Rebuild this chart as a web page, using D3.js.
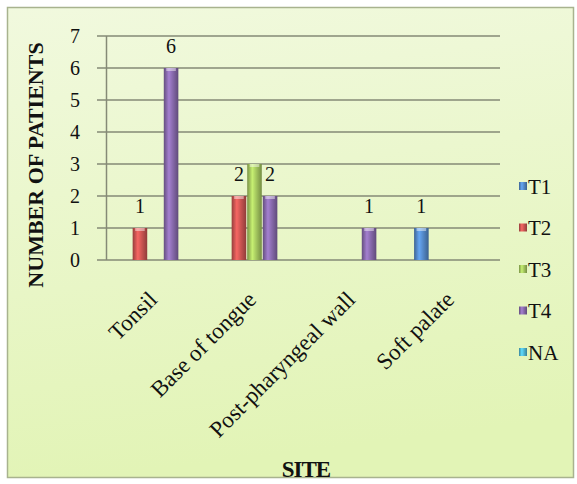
<!DOCTYPE html>
<html>
<head>
<meta charset="utf-8">
<script src="https://cdn.jsdelivr.net/npm/d3@7"></script>
<style>
html,body{margin:0;padding:0;background:#fff;}
svg{display:block;}
</style>
</head>
<body>
<svg id="chart" width="577" height="484"></svg>
<script>
const categories = ["Tonsil", "Base of tongue", "Post-pharyngeal wall", "Soft palate"];
const seriesNames = ["T1", "T2", "T3", "T4", "NA"];
const T1 = [0, 0, 0, 1];
const T2 = [1, 2, 0, 0];
const T3 = [0, 3, 0, 0];
const T4 = [6, 2, 1, 0];
const NA = [0, 0, 0, 0];
const seriesValues = [T1, T2, T3, T4, NA];
const seriesColors = ["#4f81bd", "#c0504d", "#9bbb59", "#8064a2", "#4bacc6"];
const labelledSeries = ["T1", "T2", "T4"];
const yTicks = [0, 1, 2, 3, 4, 5, 6, 7];
const yTitle = "NUMBER OF PATIENTS";
const xTitle = "SITE";

const FONT = "'Liberation Serif'";
const svg = d3.select("#chart");
const defs = svg.append("defs");

const bg = defs.append("linearGradient").attr("id", "bg")
  .attr("x1", 0).attr("y1", 0).attr("x2", 0.15).attr("y2", 1);
bg.append("stop").attr("offset", 0).attr("stop-color", "#f1f9de");
bg.append("stop").attr("offset", 1).attr("stop-color", "#e2f4b6");

svg.append("rect").attr("x", 7.5).attr("y", 7.5).attr("width", 566).attr("height", 470)
  .attr("fill", "url(#bg)").attr("stroke", "#a8b38e").attr("stroke-width", 1.5);

seriesColors.forEach((c, i) => {
  const g = defs.append("linearGradient").attr("id", "bar" + i)
    .attr("x1", 0).attr("y1", 0).attr("x2", 1).attr("y2", 0);
  const base = d3.color(c);
  g.append("stop").attr("offset", 0).attr("stop-color", base.darker(0.7));
  g.append("stop").attr("offset", 0.35).attr("stop-color", base.brighter(0.7));
  g.append("stop").attr("offset", 0.6).attr("stop-color", base.brighter(0.2));
  g.append("stop").attr("offset", 1).attr("stop-color", base.darker(0.8));
});

const x0 = d3.scaleBand().domain(categories).range([106, 502]).padding(0);
const x1 = d3.scaleBand().domain(seriesNames).range([0, x0.bandwidth()])
  .paddingInner(0).paddingOuter(0.68);
const y = d3.scaleLinear().domain([0, 7]).range([260, 36]);

svg.append("g").selectAll("line").data(yTicks).join("line")
  .attr("x1", 97).attr("x2", 500)
  .attr("y1", d => y(d)).attr("y2", d => y(d))
  .attr("stroke", "#858a76").attr("stroke-width", 1.5);

svg.append("line").attr("x1", 106.5).attr("x2", 106.5)
  .attr("y1", y(7)).attr("y2", y(0))
  .attr("stroke", "#858a76").attr("stroke-width", 1.5);

const T = sel => sel.attr("font-family", FONT).attr("fill", "#111");

svg.append("g").selectAll("text").data(yTicks).join("text")
  .attr("x", 75).attr("y", d => y(d) + 7)
  .attr("text-anchor", "middle").attr("font-size", 20)
  .call(T).text(d => d);

const flat = [];
seriesNames.forEach((s, si) => {
  categories.forEach((c, ci) => {
    flat.push({ s, si, c, v: seriesValues[si][ci] });
  });
});
const bars = flat.filter(d => d.v > 0);
svg.append("g").selectAll("rect").data(bars).join("rect")
  .attr("x", d => x0(d.c) + x1(d.s) + 0.5)
  .attr("width", x1.bandwidth() - 1)
  .attr("y", d => y(d.v))
  .attr("height", d => y(0) - y(d.v))
  .attr("fill", d => "url(#bar" + d.si + ")");
svg.append("g").selectAll("rect").data(bars).join("rect")
  .attr("x", d => x0(d.c) + x1(d.s) + 3)
  .attr("width", x1.bandwidth() - 6)
  .attr("y", d => y(d.v))
  .attr("height", 3)
  .attr("fill", "#fff").attr("opacity", 0.45);

svg.append("g").selectAll("text")
  .data(bars.filter(d => labelledSeries.includes(d.s))).join("text")
  .attr("x", d => x0(d.c) + x1(d.s) + x1.bandwidth() / 2)
  .attr("y", d => y(d.v) - 15)
  .attr("text-anchor", "middle").attr("font-size", 20)
  .call(T).text(d => d.v);

svg.append("g").selectAll("text").data(categories).join("text")
  .attr("transform", d => `translate(${x0(d) + x0.bandwidth() / 2 + 3},301) rotate(-45)`)
  .attr("text-anchor", "end").attr("font-size", 23)
  .call(T).text(d => d);

svg.append("text")
  .attr("transform", "translate(43,165) rotate(-90)")
  .attr("text-anchor", "middle").attr("font-size", 22).attr("font-weight", "bold")
  .call(T).text(yTitle);
svg.append("text")
  .attr("x", 306).attr("y", 477)
  .attr("text-anchor", "middle").attr("font-size", 23).attr("font-weight", "bold")
  .attr("letter-spacing", -1)
  .call(T).text(xTitle);

const lg = svg.append("g").selectAll("g").data(seriesNames).join("g")
  .attr("transform", (d, i) => `translate(519,${186 + i * 41.5})`);
lg.append("rect").attr("x", 0).attr("y", -4).attr("width", 8).attr("height", 8)
  .attr("fill", (d, i) => "url(#bar" + i + ")");
lg.append("text").attr("x", 9).attr("y", 7.5).attr("font-size", 21)
  .call(T).text(d => d);
</script>
</body>
</html>
